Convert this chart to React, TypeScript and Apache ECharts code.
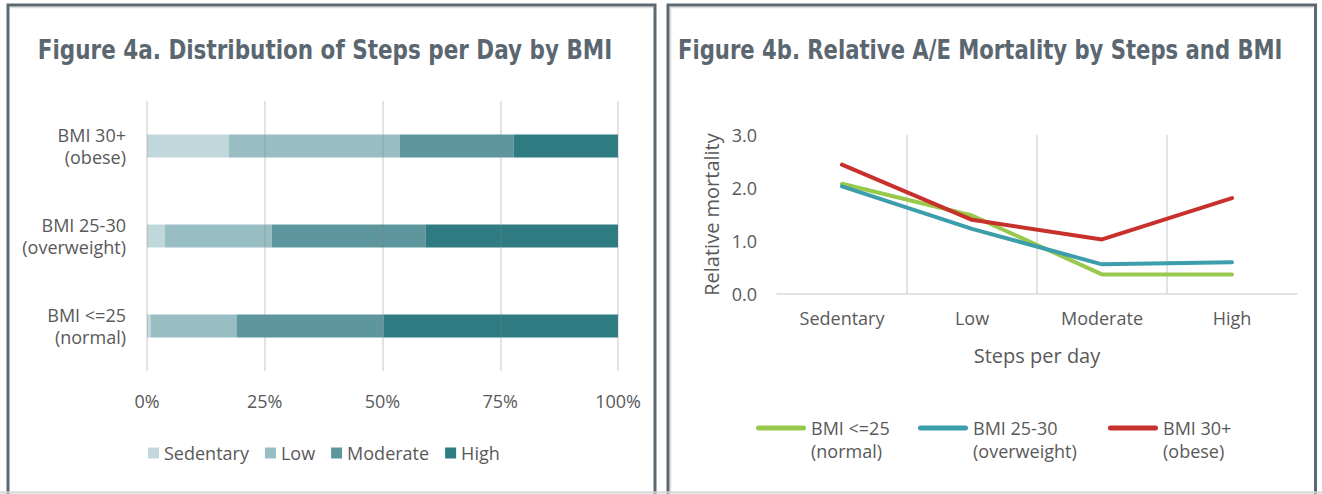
import React, { useEffect, useRef } from "react";
import * as echarts from "echarts";

// ---- Data ----
const bmiCategories = ["BMI <=25\n(normal)", "BMI 25-30\n(overweight)", "BMI 30+\n(obese)"];
const stepCategories = ["Sedentary", "Low", "Moderate", "High"];
const pctTicks = [0, 25, 50, 75, 100];

// share (%) of each BMI group (bottom to top: <=25, 25-30, 30+)
const sedentaryShare = [0.8, 3.8, 17.4];
const lowShare = [18.2, 22.7, 36.3];
const moderateShare = [31.3, 32.7, 24.1];
const highShare = [49.7, 40.8, 22.2];

// relative A/E mortality by steps category
const lineNames = ["BMI <=25 (normal)", "BMI 25-30 (overweight)", "BMI 30+ (obese)"];
const normalMortality = [2.08, 1.48, 0.37, 0.37];
const overweightMortality = [2.03, 1.23, 0.56, 0.6];
const obeseMortality = [2.44, 1.4, 1.03, 1.81];
const mortalityTicks = [0, 1, 2, 3];

const title4a = "Figure 4a. Distribution of Steps per Day by BMI";
const title4b = "Figure 4b. Relative A/E Mortality by Steps and BMI";

const barColors = ["#c0d8dc", "#98bec3", "#5d979d", "#2e7b82"];
const lineColors = ["#99c94c", "#3c9dab", "#c8312b"];

const TEXT = "#595959";
const FONT = "'Open Sans', 'Noto Sans', sans-serif";
const TITLE_FONT = "'DejaVu Sans Condensed', Roboto, sans-serif";
const BORDER = "#5c6870";
// capsule line at the height of the first text line; zero-area strokes pin the box to two text lines
const lineIcon =
  "path://M0,0 L50,0 Z M2.5,9 L47.5,9 A2.5,2.5 0 0 1 47.5,14 L2.5,14 A2.5,2.5 0 0 1 2.5,9 Z M0,46 L50,46 Z";

export default function App() {
  const ref = useRef<HTMLDivElement>(null);
  useEffect(() => {
    if (!ref.current) return;
    const chart = echarts.init(ref.current, undefined, { renderer: "svg" });
    const shares = [sedentaryShare, lowShare, moderateShare, highShare];
    const lines = [normalMortality, overweightMortality, obeseMortality];
    const legendX = [756, 918, 1108];

    const option: any = {
      animation: false,
      backgroundColor: "#ffffff",
      graphic: [
        { type: "rect", shape: { x: 8, y: 5, width: 647, height: 540 }, style: { fill: "none", stroke: BORDER, lineWidth: 3 }, z: 100 },
        { type: "rect", shape: { x: 668, y: 5, width: 647.5, height: 540 }, style: { fill: "none", stroke: BORDER, lineWidth: 3 }, z: 100 },
        { type: "line", shape: { x1: 10, y1: 7.5, x2: 653, y2: 7.5 }, style: { stroke: "#dcdcdc", lineWidth: 1.5 } },
        { type: "line", shape: { x1: 670, y1: 7.5, x2: 1313, y2: 7.5 }, style: { stroke: "#dcdcdc", lineWidth: 1.5 } },
        { type: "line", shape: { x1: 670.5, y1: 7, x2: 670.5, y2: 492 }, style: { stroke: "#dcdcdc", lineWidth: 1.5 } },
        { type: "line", shape: { x1: 0, y1: 492.5, x2: 1322, y2: 492.5 }, style: { stroke: "#d6d6d6", lineWidth: 2 }, z: 101 },
        {
          type: "text", x: 325, y: 50, scaleX: 0.92,
          style: { text: title4a, fontFamily: TITLE_FONT, fontWeight: "bold", fontSize: 26, fill: "#5b6770", align: "center", verticalAlign: "middle" },
        },
        {
          type: "text", x: 678, y: 50, scaleX: 0.905,
          style: { text: title4b, fontFamily: TITLE_FONT, fontWeight: "bold", fontSize: 26, fill: "#5b6770", align: "left", verticalAlign: "middle" },
        },
      ],
      legend: [
        {
          data: stepCategories, left: 148, top: 444, padding: 0, icon: "rect",
          itemWidth: 11, itemHeight: 11, itemGap: 16, selectedMode: false,
          textStyle: { color: TEXT, fontSize: 18, fontFamily: FONT },
        },
        ...lineNames.map((n, i) => ({
          data: [n], left: legendX[i], top: 416.5, padding: 0, icon: lineIcon,
          itemWidth: 50, itemHeight: 46, selectedMode: false,
          itemStyle: { borderWidth: 0 },
          formatter: (name: string) => name.replace(" (", "\n("),
          textStyle: { color: TEXT, fontSize: 18, fontFamily: FONT, lineHeight: 23 },
        })),
      ],
      grid: [
        { left: 147, top: 101, width: 471, height: 270 },
        { left: 777, top: 135, width: 520, height: 159 },
      ],
      xAxis: [
        {
          gridIndex: 0, type: "value", min: pctTicks[0], max: pctTicks[pctTicks.length - 1], interval: pctTicks[1] - pctTicks[0], z: 10,
          axisLine: { show: false }, axisTick: { show: false },
          axisLabel: { formatter: "{value}%", color: TEXT, fontSize: 18, fontFamily: FONT, margin: 21 },
          splitLine: { show: true, lineStyle: { color: "rgba(128,128,128,0.3)", width: 1.5 } },
        },
        {
          gridIndex: 1, type: "category", data: stepCategories, boundaryGap: true,
          axisLine: { show: true, lineStyle: { color: "#d9d9d9", width: 1.5 } },
          axisTick: { show: false },
          axisLabel: { color: TEXT, fontSize: 18, fontFamily: FONT, margin: 15 },
          splitLine: { show: true, showMinLine: false, showMaxLine: false, lineStyle: { color: "#d9d9d9", width: 1.5 } },
          name: "Steps per day", nameLocation: "middle", nameGap: 51,
          nameTextStyle: { color: TEXT, fontSize: 20, fontFamily: FONT },
        },
      ],
      yAxis: [
        {
          gridIndex: 0, type: "category", data: bmiCategories,
          axisLine: { show: false }, axisTick: { show: false },
          axisLabel: { color: TEXT, fontSize: 18, lineHeight: 22, fontFamily: FONT, margin: 21 },
          splitLine: { show: false },
        },
        {
          gridIndex: 1, type: "value", min: mortalityTicks[0], max: mortalityTicks[mortalityTicks.length - 1], interval: 1,
          axisLine: { show: false }, axisTick: { show: false },
          axisLabel: { color: TEXT, fontSize: 18, fontFamily: FONT, margin: 20, formatter: (v: number) => v.toFixed(1) },
          splitLine: { show: false },
          name: "Relative mortality", nameLocation: "middle", nameGap: 56,
          nameTextStyle: { color: TEXT, fontSize: 20, fontFamily: FONT },
        },
      ],
      series: [
        ...stepCategories.map((name, i) => ({
          name, type: "bar", stack: "share", xAxisIndex: 0, yAxisIndex: 0,
          barWidth: 23, data: shares[i], itemStyle: { color: barColors[i] },
        })),
        ...lineNames.map((name, i) => ({
          name, type: "line", xAxisIndex: 1, yAxisIndex: 1, data: lines[i],
          symbol: "none", color: lineColors[i], itemStyle: { color: lineColors[i] },
          lineStyle: { color: lineColors[i], width: 4, join: "round", cap: "round" },
        })),
      ],
    };
    chart.setOption(option);
    return () => chart.dispose();
  }, []);

  return (
    <div style={{ position: "fixed", left: 0, top: 0, width: 1322, height: 494, background: "#fff" }}>
      <div ref={ref} style={{ width: 1322, height: 494 }} />
    </div>
  );
}
